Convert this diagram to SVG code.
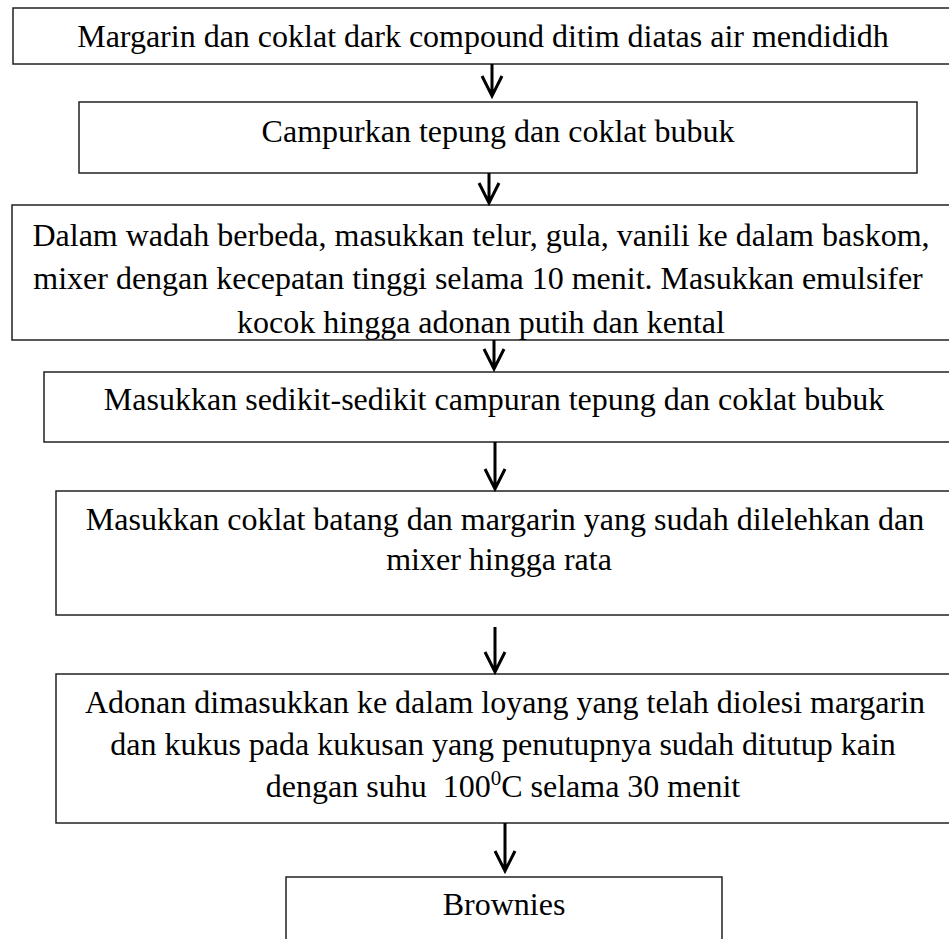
<svg xmlns="http://www.w3.org/2000/svg" width="949" height="939" viewBox="0 0 949 939">
<style>
.box{fill:#fff;stroke:#222;stroke-width:1.5}
.t{font-family:"Liberation Serif","Times New Roman",serif;font-size:32px;fill:#000;text-anchor:middle}
.arr{fill:none;stroke:#000;stroke-width:3;stroke-linecap:butt;stroke-linejoin:miter}
</style>
<defs>
<clipPath id="c3"><rect x="12" y="205" width="940" height="135"/></clipPath>
</defs>
<rect width="949" height="939" fill="#fff"/>
<g id="n1">
<rect class="box" x="13" y="8" width="950" height="56"/>
<text class="t" x="483" y="47">Margarin dan coklat dark compound ditim diatas air mendididh</text>
</g>
<g id="n2">
<rect class="box" x="79" y="102" width="838" height="71"/>
<text class="t" x="498" y="142">Campurkan tepung dan coklat bubuk</text>
</g>
<g id="n3">
<rect class="box" x="12" y="205" width="950" height="135"/>
<g clip-path="url(#c3)">
<text class="t" x="481" y="246">Dalam wadah berbeda, masukkan telur, gula, vanili ke dalam baskom,</text>
<text class="t" x="478" y="289">mixer dengan kecepatan tinggi selama 10 menit. Masukkan emulsifer</text>
<text class="t" x="481" y="333">kocok hingga adonan putih dan kental</text>
</g>
</g>
<g id="n4">
<rect class="box" x="44" y="372" width="920" height="70"/>
<text class="t" x="494" y="410">Masukkan sedikit-sedikit campuran tepung dan coklat bubuk</text>
</g>
<g id="n5">
<rect class="box" x="56" y="491" width="910" height="124"/>
<text class="t" x="505" y="530">Masukkan coklat batang dan margarin yang sudah dilelehkan dan</text>
<text class="t" x="499" y="570">mixer hingga rata</text>
</g>
<g id="n6">
<rect class="box" x="56" y="674" width="910" height="149"/>
<text class="t" x="505" y="713">Adonan dimasukkan ke dalam loyang yang telah diolesi margarin</text>
<text class="t" x="503" y="755">dan kukus pada kukusan yang penutupnya sudah ditutup kain</text>
<text class="t" x="503" y="797" xml:space="preserve">dengan suhu  100<tspan font-size="21" dy="-12">0</tspan><tspan dy="12">C selama 30 menit</tspan></text>
</g>
<g id="n7">
<rect class="box" x="286" y="877" width="436" height="80"/>
<text class="t" x="504" y="915">Brownies</text>
</g>
<g id="connectors">
<path class="arr" d="M492 64V96M482 76L492 96L502 76"/>
<path class="arr" d="M489 173V203M479 183L489 203L499 183"/>
<path class="arr" d="M494 340V369M484 349L494 369L504 349"/>
<path class="arr" d="M495 442V489M485 469L495 489L505 469"/>
<path class="arr" d="M495 627V672M485 652L495 672L505 652"/>
<path class="arr" d="M505 823V871M495 851L505 871L515 851"/>
</g>
</svg>
